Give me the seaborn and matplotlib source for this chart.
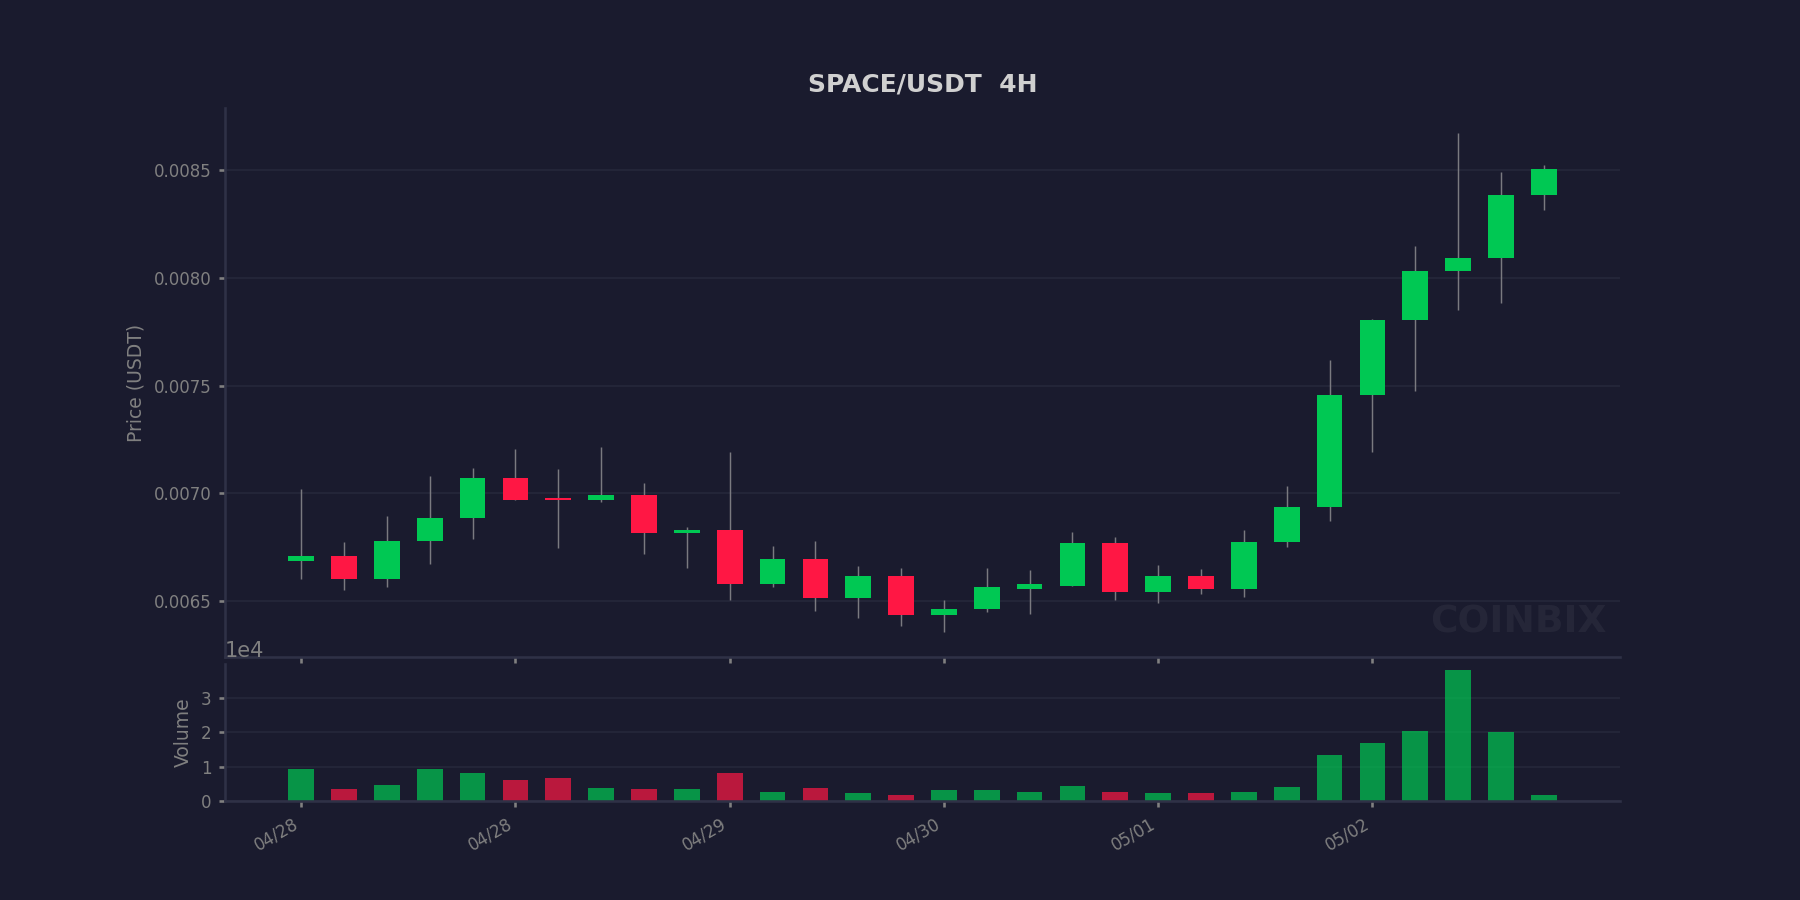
import numpy as np
import pandas as pd
import matplotlib
matplotlib.use('Agg')
import matplotlib.pyplot as plt
import seaborn as sns

## 4H candles, SPACE/USDT
opens = [0.006685, 0.006710, 0.006603, 0.006780, 0.006885, 0.007071, 0.006976, 0.006969,
         0.006992, 0.006816, 0.006830, 0.006576, 0.006696, 0.006511, 0.006617, 0.006432,
         0.006463, 0.006557, 0.006568, 0.006770, 0.006543, 0.006617, 0.006557, 0.006775,
         0.006937, 0.007455, 0.007803, 0.008030, 0.008090, 0.008386]
closes = [0.006710, 0.006603, 0.006780, 0.006885, 0.007071, 0.006969, 0.006970, 0.006992,
          0.006816, 0.006830, 0.006576, 0.006696, 0.006511, 0.006617, 0.006432, 0.006463,
          0.006562, 0.006576, 0.006770, 0.006543, 0.006617, 0.006557, 0.006775, 0.006937,
          0.007455, 0.007803, 0.008030, 0.008090, 0.008386, 0.008506]
highs = [0.007020, 0.006775, 0.006895, 0.007080, 0.007117, 0.007205, 0.007113, 0.007214,
         0.007048, 0.006844, 0.007191, 0.006756, 0.006779, 0.006664, 0.006654, 0.006506,
         0.006654, 0.006645, 0.006821, 0.006798, 0.006668, 0.006650, 0.006830, 0.007034,
         0.007617, 0.007807, 0.008150, 0.008673, 0.008492, 0.008525]
lows = [0.006603, 0.006548, 0.006562, 0.006673, 0.006789, 0.006969, 0.006747, 0.006961,
        0.006719, 0.006654, 0.006502, 0.006566, 0.006455, 0.006418, 0.006381, 0.006353,
        0.006446, 0.006441, 0.006568, 0.006502, 0.006488, 0.006534, 0.006520, 0.006752,
        0.006872, 0.007191, 0.007474, 0.007849, 0.007881, 0.008316]
volumes = [9140, 3430, 4570, 9140, 8000, 6000, 6570, 3710, 3430, 3430,
           8000, 2570, 3710, 2290, 1710, 3140, 3140, 2570, 4290, 2570,
           2290, 2290, 2570, 4000, 13200, 16750, 20230, 37950, 19940, 1650]

tick_idx = [0, 5, 10, 15, 20, 25]
tick_labels = ['04/28', '04/28', '04/29', '04/30', '05/01', '05/02']

bg = '#1a1b2e'
up = '#00c853'
down = '#ff1744'
txt = '#808080'

sns.set_theme(style='ticks', rc={
    'figure.facecolor': bg, 'axes.facecolor': bg, 'savefig.facecolor': bg,
    'axes.edgecolor': '#2f3146', 'grid.color': '#26283b', 'grid.linewidth': 0.8,
    'xtick.color': txt, 'ytick.color': txt, 'axes.labelcolor': txt, 'text.color': txt,
    'xtick.labelsize': 8, 'ytick.labelsize': 8, 'axes.labelsize': 9,
    'xtick.major.size': 3, 'ytick.major.size': 3,
    'axes.spines.top': False, 'axes.spines.right': False,
})
plt.rcParams['font.family'] = ['DejaVu Sans']

df = pd.DataFrame({'idx': np.arange(len(opens)), 'open': opens, 'close': closes,
                   'high': highs, 'low': lows, 'volume': volumes})
df['dir'] = np.where(df['close'] >= df['open'], 'up', 'down')
colors = df['dir'].map({'up': up, 'down': down})

fig, (ax, ax2) = plt.subplots(2, 1, figsize=(12, 6), dpi=150, sharex=True,
                              gridspec_kw={'height_ratios': [4, 1], 'hspace': 0.018})

# wicks + bodies
ax.vlines(df['idx'], df['low'], df['high'], color='#7a7a80', linewidth=0.7, zorder=1)
ax.bar(df['idx'], (df['close'] - df['open']).abs(), bottom=df[['open', 'close']].min(axis=1),
       width=0.6, color=colors, linewidth=0, zorder=2)
ax.grid(axis='y')
ax.set_ylabel('Price (USDT)')
ax.set_title('SPACE/USDT  4H', fontsize=12, fontweight='bold', color='#d0d0d0', pad=8)
ax.text(0.99, 0.03, 'COINBIX', transform=ax.transAxes, ha='right', va='bottom',
        fontsize=18, fontweight='bold', color='white', alpha=0.05)

# volume
sns.barplot(data=df, x='idx', y='volume', hue='dir', palette={'up': up, 'down': down},
            native_scale=True, width=0.6, dodge=False, saturation=1, alpha=0.7,
            errorbar=None, legend=False, linewidth=0, ax=ax2)
ax2.grid(axis='y')
ax2.set_ylabel('Volume')
ax2.set_xlabel('')
ax2.ticklabel_format(axis='y', style='sci', scilimits=(0, 0))
ax2.yaxis.get_offset_text().set_fontsize(10)
ax2.set_ylim(0, max(volumes) * 1.05)
ax2.set_xlim(-0.3 - 0.05 * 29.6, 29.3 + 0.05 * 29.6)
ax2.set_xticks(tick_idx)
ax2.set_xticklabels(tick_labels, rotation=30, ha='right')

plt.savefig('out.png', dpi=150)
